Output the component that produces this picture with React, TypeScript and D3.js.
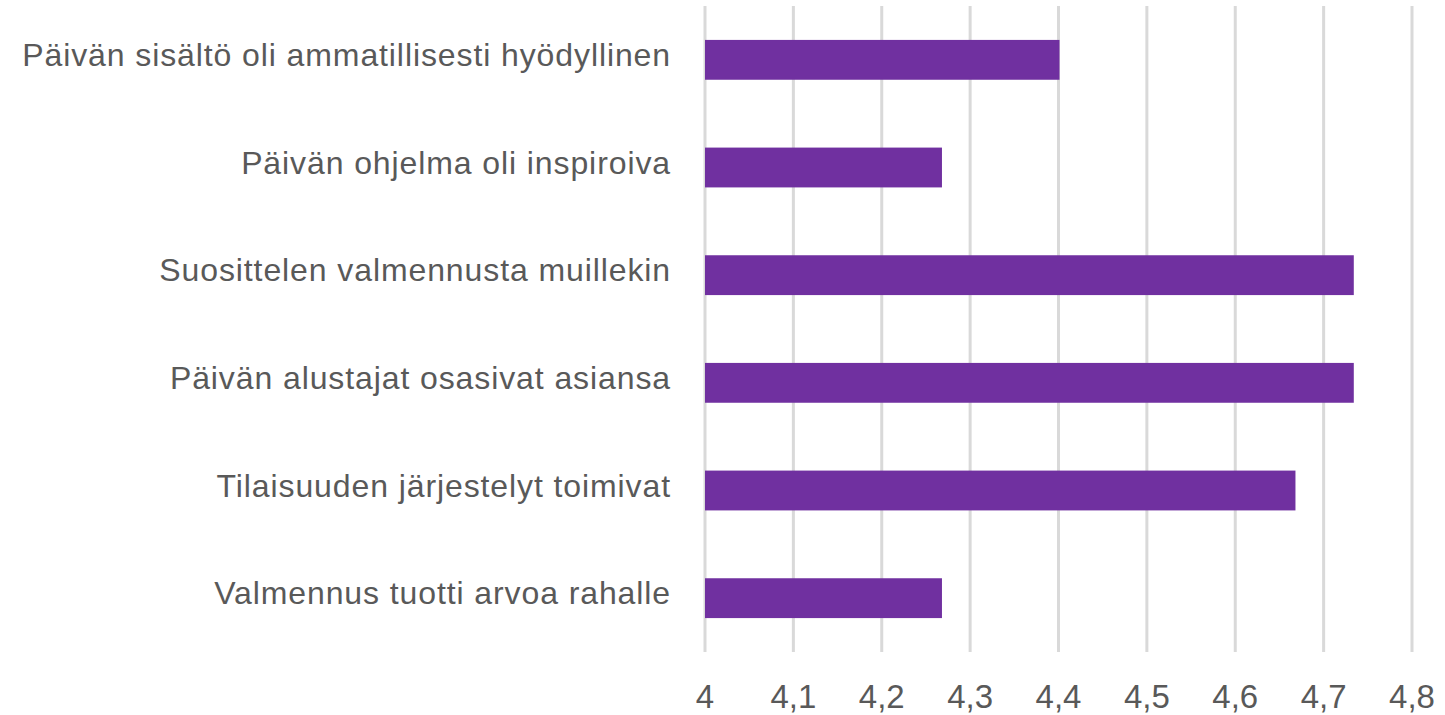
import { useEffect, useRef } from 'react';
import * as d3 from 'd3';

const categories = [
  'Päivän sisältö oli ammatillisesti hyödyllinen',
  'Päivän ohjelma oli inspiroiva',
  'Suosittelen valmennusta muillekin',
  'Päivän alustajat osasivat asiansa',
  'Tilaisuuden järjestelyt toimivat',
  'Valmennus tuotti arvoa rahalle',
];
const values = [4.4, 4.267, 4.733, 4.733, 4.667, 4.267];
const ticks = [4, 4.1, 4.2, 4.3, 4.4, 4.5, 4.6, 4.7, 4.8];

const W = 1445;
const H = 715;

const App = () => {
  const svgRef = useRef<SVGSVGElement | null>(null);

  useEffect(() => {
    document.body.style.margin = '0';
    const svg = d3.select(svgRef.current);
    svg.selectAll('*').remove();

    const x = d3.scaleLinear().domain([4, 4.8]).range([705, 1412]);
    const y = d3.scaleBand<string>().domain(categories).range([6, 652]).paddingInner(0.63).paddingOuter(0.315);

    // gridlines
    svg.append('g')
      .selectAll('line')
      .data(ticks)
      .enter()
      .append('line')
      .attr('x1', d => x(d))
      .attr('x2', d => x(d))
      .attr('y1', 6)
      .attr('y2', 652)
      .style('stroke', '#d9d9d9')
      .style('stroke-width', '3px');

    // bars
    svg.append('g')
      .selectAll('rect')
      .data(values)
      .enter()
      .append('rect')
      .attr('x', x(4))
      .attr('y', (d, i) => y(categories[i]) as number)
      .attr('width', d => x(d) - x(4) + 1)
      .attr('height', y.bandwidth())
      .style('fill', '#7030a0');

    // category labels
    svg.append('g')
      .selectAll('text')
      .data(categories)
      .enter()
      .append('text')
      .attr('x', 671)
      .attr('y', d => (y(d) as number) + y.bandwidth() / 2 + 6)
      .style('text-anchor', 'end')
      .style('font-family', '"Liberation Sans", Arial, sans-serif')
      .style('font-size', '32px')
      .style('letter-spacing', '0.9px')
      .style('fill', '#595959')
      .text(d => d);

    // tick labels
    svg.append('g')
      .selectAll('text')
      .data(ticks)
      .enter()
      .append('text')
      .attr('x', d => x(d))
      .attr('y', 708)
      .style('text-anchor', 'middle')
      .style('font-family', '"Liberation Sans", Arial, sans-serif')
      .style('font-size', '33px')
      .style('fill', '#595959')
      .text(d => String(d).replace('.', ','));
  }, []);

  return <svg ref={svgRef} width={W} height={H} style={{ display: 'block', background: '#fff' }} />;
};

export default App;
